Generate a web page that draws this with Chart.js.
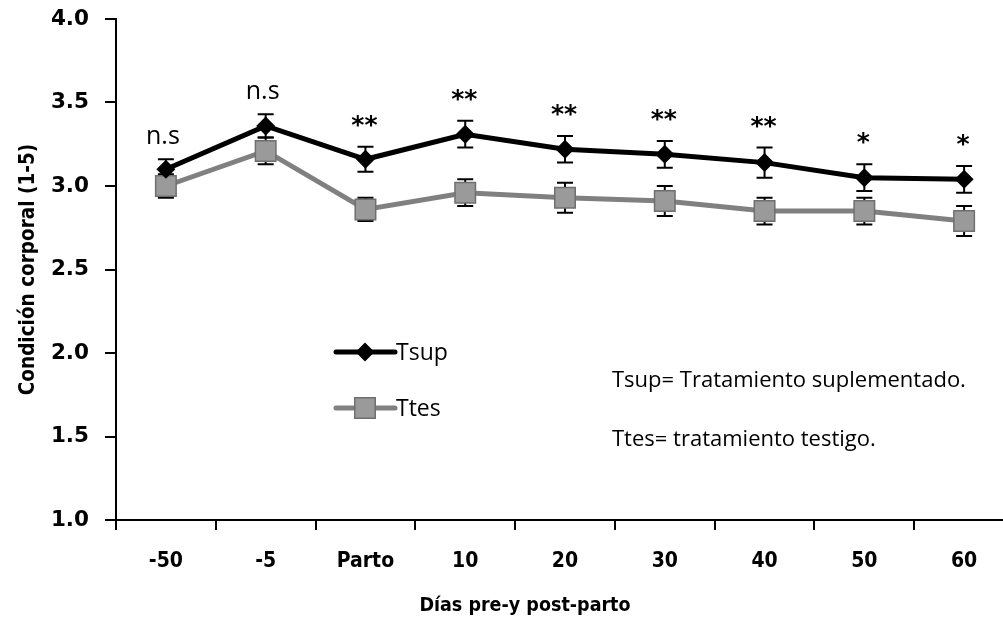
<!DOCTYPE html>
<html>
<head>
<meta charset="utf-8">
<script src="https://cdn.jsdelivr.net/npm/chart.js@4"></script>
<style>
  html, body { margin: 0; padding: 0; background: #ffffff; overflow: hidden; }
  #wrap { position: relative; width: 1030px; height: 623px; }
  canvas { display: block; }
</style>
</head>
<body>
<div id="wrap"><canvas id="chart" width="1030" height="623"></canvas></div>
<script>
// Días respecto al parto
const categories = ['-50', '-5', 'Parto', '10', '20', '30', '40', '50', '60'];

// Condición corporal media (escala 1-5) y su error estándar
const tsupValues = [3.10, 3.36, 3.16, 3.31, 3.22, 3.19, 3.14, 3.05, 3.04];
const tsupErrors = [0.06, 0.07, 0.075, 0.08, 0.08, 0.08, 0.09, 0.08, 0.08];
const ttesValues = [3.00, 3.21, 2.86, 2.96, 2.93, 2.91, 2.85, 2.85, 2.79];
const ttesErrors = [0.07, 0.08, 0.07, 0.08, 0.09, 0.09, 0.08, 0.08, 0.09];

// Significación de la diferencia entre tratamientos en cada fecha
const significance = ['n.s', 'n.s', '**', '**', '**', '**', '**', '*', '*'];

const yTicks = [1.0, 1.5, 2.0, 2.5, 3.0, 3.5, 4.0];

const xTitle = 'Días pre-y post-parto';
const yTitle = 'Condición corporal (1-5)';
const notes = ['Tsup= Tratamiento suplementado.', 'Ttes= tratamiento testigo.'];

const TEXT_FONT = '"Open Sans", "Liberation Sans", sans-serif';
const AXIS_FONT = '"DejaVu Sans", Verdana, sans-serif';
const COND_FONT = '"DejaVu Sans Condensed", "DejaVu Sans", sans-serif';

// Barras de error verticales con remate horizontal
const errorBars = {
  id: 'errorBars',
  beforeDatasetsDraw(chart) {
    const ctx = chart.ctx;
    const y = chart.scales.y;
    chart.data.datasets.forEach((ds, i) => {
      const meta = chart.getDatasetMeta(i);
      ctx.save();
      ctx.strokeStyle = '#000000';
      ctx.lineWidth = 2;
      meta.data.forEach((pt, j) => {
        const v = ds.data[j], e = ds.errors[j];
        const top = y.getPixelForValue(v + e);
        const bot = y.getPixelForValue(v - e);
        const cap = 8;
        ctx.beginPath();
        ctx.moveTo(pt.x, top); ctx.lineTo(pt.x, bot);
        ctx.moveTo(pt.x - cap, top); ctx.lineTo(pt.x + cap, top);
        ctx.moveTo(pt.x - cap, bot); ctx.lineTo(pt.x + cap, bot);
        ctx.stroke();
      });
      ctx.restore();
    });
  }
};

// Marcas de significación, leyenda, título del eje X y notas
const overlay = {
  id: 'overlay',
  afterDraw(chart) {
    const ctx = chart.ctx;
    const x = chart.scales.x;
    const y = chart.scales.y;
    ctx.save();
    ctx.textAlign = 'center';
    ctx.fillStyle = '#000000';
    significance.forEach((s, j) => {
      const px = x.getPixelForValue(j);
      const top = y.getPixelForValue(tsupValues[j] + tsupErrors[j]);
      ctx.textBaseline = 'alphabetic';
      if (s === 'n.s') {
        ctx.font = '25px ' + TEXT_FONT;
        ctx.fillText(s, px - 3, top - 15);
      } else {
        ctx.font = 'bold 25px ' + AXIS_FONT;
        ctx.fillText(s, px - 1, top - 14);
      }
    });

    // Leyenda
    const legendRows = [352, 408];
    chart.data.datasets.forEach((ds, i) => {
      const ly = legendRows[i];
      ctx.strokeStyle = ds.borderColor;
      ctx.lineWidth = ds.borderWidth;
      ctx.lineCap = 'round';
      ctx.beginPath();
      ctx.moveTo(336, ly); ctx.lineTo(395, ly);
      ctx.stroke();
      ctx.fillStyle = ds.pointBackgroundColor;
      ctx.strokeStyle = ds.pointBorderColor;
      ctx.lineWidth = ds.pointBorderWidth;
      Chart.helpers.drawPoint(ctx, {
        pointStyle: ds.pointStyle,
        radius: ds.pointRadius,
        borderWidth: ds.pointBorderWidth,
        rotation: 0
      }, 365, ly);
      ctx.fillStyle = '#000000';
      ctx.font = '23px ' + TEXT_FONT;
      ctx.textAlign = 'left';
      ctx.textBaseline = 'middle';
      ctx.fillText(ds.label, 396, ly + 1);
    });

    // Título del eje X
    ctx.font = 'bold 19.5px ' + COND_FONT;
    ctx.textAlign = 'center';
    ctx.textBaseline = 'middle';
    ctx.fillText(xTitle, 525, 606);

    // Notas explicativas
    ctx.font = '22px ' + TEXT_FONT;
    ctx.textAlign = 'left';
    ctx.textBaseline = 'middle';
    ctx.fillText(notes[0], 612, 381);
    ctx.fillText(notes[1], 612, 440);
    ctx.restore();
  }
};

new Chart(document.getElementById('chart'), {
  type: 'line',
  data: {
    labels: categories,
    datasets: [
      {
        label: 'Tsup',
        data: tsupValues,
        errors: tsupErrors,
        borderColor: '#000000',
        borderWidth: 5,
        pointStyle: 'rectRot',
        pointRadius: 9.5,
        pointBackgroundColor: '#000000',
        pointBorderColor: '#000000',
        pointBorderWidth: 0,
        tension: 0
      },
      {
        label: 'Ttes',
        data: ttesValues,
        errors: ttesErrors,
        borderColor: '#808080',
        borderWidth: 5,
        pointStyle: 'rect',
        pointRadius: 14.5,
        pointBackgroundColor: '#9a9a9a',
        pointBorderColor: '#6f6f6f',
        pointBorderWidth: 1.5,
        tension: 0
      }
    ]
  },
  options: {
    responsive: false,
    animation: false,
    devicePixelRatio: 1,
    layout: { padding: { top: 19, right: 0, bottom: 0, left: 0 } },
    plugins: { legend: { display: false }, tooltip: { enabled: false } },
    scales: {
      x: {
        type: 'category',
        offset: true,
        afterFit(s) { s.height = 103; },
        border: { display: true, color: '#000000', width: 2 },
        grid: {
          offset: true, drawOnChartArea: false, drawTicks: true,
          tickLength: 10, color: '#000000', lineWidth: 2
        },
        ticks: {
          color: '#000000', padding: 19,
          font: { family: COND_FONT, size: 21, weight: 'bold' },
          maxRotation: 0, autoSkip: false
        }
      },
      y: {
        min: 1, max: 4,
        afterFit(s) { s.width = 116; s.paddingTop = 0; s.paddingBottom = 0; },
        afterBuildTicks(s) { s.ticks = yTicks.map(v => ({ value: v })); },
        border: { display: true, color: '#000000', width: 2 },
        grid: {
          drawOnChartArea: false, drawTicks: true,
          tickLength: 11, color: '#000000', lineWidth: 2
        },
        ticks: {
          color: '#000000', padding: 16,
          font: { family: AXIS_FONT, size: 21.5, weight: 'bold' },
          callback: v => v.toFixed(1)
        },
        title: {
          display: true, text: yTitle, color: '#000000',
          font: { family: COND_FONT, size: 20.5, weight: 'bold' },
          padding: { top: 16, bottom: 0 }
        }
      }
    }
  },
  plugins: [errorBars, overlay]
});
</script>
</body>
</html>
